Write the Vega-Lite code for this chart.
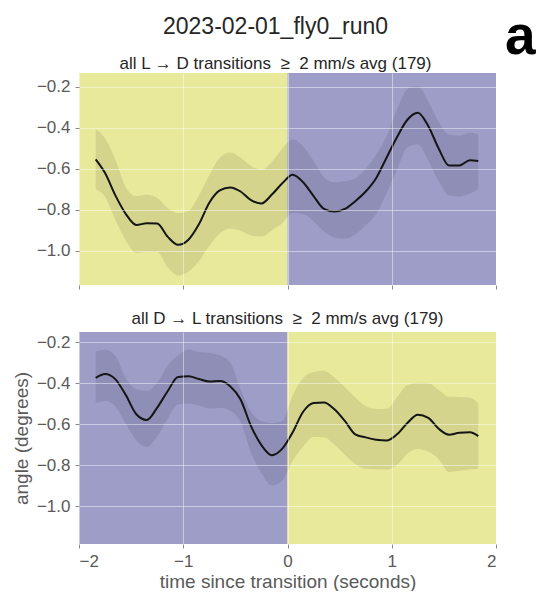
{
  "$schema": "https://vega.github.io/schema/vega-lite/v6.json",
  "background": "white",
  "padding": {"left": 12, "top": 10, "right": 0, "bottom": 0},
  "config": {
    "font": "Liberation Sans",
    "view": {"stroke": null},
    "title": {"font": "Liberation Sans", "fontWeight": "normal", "color": "#262626", "subtitleFont": "Liberation Sans", "subtitleColor": "#262626"},
    "axis": {
      "labelFont": "Liberation Sans", "titleFont": "Liberation Sans",
      "labelColor": "#5a5a5a", "titleColor": "#5a5a5a",
      "labelFontSize": 17, "titleFontSize": 19, "titleFontWeight": "normal",
      "domain": false, "tickColor": "#8a8a8a", "tickSize": 4, "labelPadding": 5,
      "grid": true, "gridColor": "white", "gridOpacity": 0.45
    }
  },
  "title": {"text": "a", "orient": "right", "anchor": "start", "angle": 0, "align": "left", "baseline": "top", "fontSize": 55, "fontWeight": "bold", "color": "#000000", "offset": -22, "dy": -5},
  "datasets": {
    "topbg": [
      {"x0": -2, "x1": 0, "phase": "light"},
      {"x0": 0, "x1": 2, "phase": "dark"}
    ],
    "botbg": [
      {"x0": -2, "x1": 0, "phase": "dark"},
      {"x0": 0, "x1": 2, "phase": "light"}
    ],
    "top": [
      {"t": -1.84, "m": -0.553, "lo": -0.699, "hi": -0.406},
      {"t": -1.75, "m": -0.62, "lo": -0.735, "hi": -0.45},
      {"t": -1.65, "m": -0.73, "lo": -0.85, "hi": -0.555},
      {"t": -1.55, "m": -0.82, "lo": -0.95, "hi": -0.69},
      {"t": -1.45, "m": -0.873, "lo": -1.01, "hi": -0.732},
      {"t": -1.35, "m": -0.865, "lo": -1.005, "hi": -0.726},
      {"t": -1.25, "m": -0.866, "lo": -1.005, "hi": -0.742},
      {"t": -1.15, "m": -0.93, "lo": -1.08, "hi": -0.79},
      {"t": -1.05, "m": -0.97, "lo": -1.12, "hi": -0.815},
      {"t": -0.95, "m": -0.945, "lo": -1.1, "hi": -0.805},
      {"t": -0.85, "m": -0.87, "lo": -1.05, "hi": -0.73},
      {"t": -0.75, "m": -0.765, "lo": -0.975, "hi": -0.63},
      {"t": -0.65, "m": -0.705, "lo": -0.915, "hi": -0.545},
      {"t": -0.55, "m": -0.69, "lo": -0.89, "hi": -0.52},
      {"t": -0.45, "m": -0.71, "lo": -0.902, "hi": -0.545},
      {"t": -0.35, "m": -0.752, "lo": -0.925, "hi": -0.585},
      {"t": -0.25, "m": -0.768, "lo": -0.93, "hi": -0.605},
      {"t": -0.15, "m": -0.725, "lo": -0.9, "hi": -0.565},
      {"t": -0.05, "m": -0.67, "lo": -0.865, "hi": -0.5},
      {"t": 0.05, "m": -0.628, "lo": -0.815, "hi": -0.455},
      {"t": 0.15, "m": -0.665, "lo": -0.82, "hi": -0.49},
      {"t": 0.25, "m": -0.732, "lo": -0.855, "hi": -0.56},
      {"t": 0.35, "m": -0.795, "lo": -0.905, "hi": -0.64},
      {"t": 0.45, "m": -0.808, "lo": -0.935, "hi": -0.665},
      {"t": 0.55, "m": -0.795, "lo": -0.94, "hi": -0.66},
      {"t": 0.65, "m": -0.757, "lo": -0.92, "hi": -0.645},
      {"t": 0.75, "m": -0.71, "lo": -0.875, "hi": -0.6},
      {"t": 0.85, "m": -0.645, "lo": -0.821, "hi": -0.53},
      {"t": 0.95, "m": -0.545, "lo": -0.72, "hi": -0.44},
      {"t": 1.05, "m": -0.445, "lo": -0.605, "hi": -0.31},
      {"t": 1.15, "m": -0.36, "lo": -0.495, "hi": -0.21},
      {"t": 1.25, "m": -0.326, "lo": -0.48, "hi": -0.195},
      {"t": 1.35, "m": -0.39, "lo": -0.56, "hi": -0.27},
      {"t": 1.45, "m": -0.5, "lo": -0.66, "hi": -0.37},
      {"t": 1.55, "m": -0.583, "lo": -0.73, "hi": -0.433},
      {"t": 1.65, "m": -0.583, "lo": -0.735, "hi": -0.437},
      {"t": 1.75, "m": -0.557, "lo": -0.72, "hi": -0.423},
      {"t": 1.83, "m": -0.561, "lo": -0.699, "hi": -0.431}
    ],
    "bot": [
      {"t": -1.84, "m": -0.375, "lo": -0.499, "hi": -0.247},
      {"t": -1.75, "m": -0.356, "lo": -0.488, "hi": -0.238},
      {"t": -1.65, "m": -0.382, "lo": -0.515, "hi": -0.268},
      {"t": -1.55, "m": -0.46, "lo": -0.6, "hi": -0.378},
      {"t": -1.45, "m": -0.552, "lo": -0.68, "hi": -0.43},
      {"t": -1.35, "m": -0.58, "lo": -0.712, "hi": -0.438},
      {"t": -1.25, "m": -0.52, "lo": -0.66, "hi": -0.4},
      {"t": -1.15, "m": -0.44, "lo": -0.575, "hi": -0.315},
      {"t": -1.05, "m": -0.37, "lo": -0.505, "hi": -0.265},
      {"t": -0.95, "m": -0.367, "lo": -0.5, "hi": -0.236},
      {"t": -0.85, "m": -0.38, "lo": -0.51, "hi": -0.248},
      {"t": -0.75, "m": -0.392, "lo": -0.524, "hi": -0.252},
      {"t": -0.65, "m": -0.39, "lo": -0.52, "hi": -0.265},
      {"t": -0.55, "m": -0.415, "lo": -0.535, "hi": -0.3},
      {"t": -0.45, "m": -0.48, "lo": -0.59, "hi": -0.43},
      {"t": -0.35, "m": -0.61, "lo": -0.74, "hi": -0.54},
      {"t": -0.25, "m": -0.703, "lo": -0.84, "hi": -0.585},
      {"t": -0.15, "m": -0.752, "lo": -0.9, "hi": -0.595},
      {"t": -0.05, "m": -0.72, "lo": -0.875, "hi": -0.585},
      {"t": 0.05, "m": -0.64, "lo": -0.78, "hi": -0.46},
      {"t": 0.15, "m": -0.54, "lo": -0.71, "hi": -0.375},
      {"t": 0.25, "m": -0.497, "lo": -0.663, "hi": -0.346},
      {"t": 0.35, "m": -0.495, "lo": -0.665, "hi": -0.34},
      {"t": 0.45, "m": -0.528, "lo": -0.7, "hi": -0.373},
      {"t": 0.55, "m": -0.585, "lo": -0.75, "hi": -0.42},
      {"t": 0.65, "m": -0.65, "lo": -0.795, "hi": -0.47},
      {"t": 0.75, "m": -0.665, "lo": -0.818, "hi": -0.512},
      {"t": 0.85, "m": -0.676, "lo": -0.82, "hi": -0.527},
      {"t": 0.95, "m": -0.68, "lo": -0.822, "hi": -0.525},
      {"t": 1.05, "m": -0.65, "lo": -0.8, "hi": -0.47},
      {"t": 1.15, "m": -0.595, "lo": -0.745, "hi": -0.41},
      {"t": 1.25, "m": -0.555, "lo": -0.722, "hi": -0.398},
      {"t": 1.35, "m": -0.57, "lo": -0.735, "hi": -0.4},
      {"t": 1.45, "m": -0.623, "lo": -0.77, "hi": -0.434},
      {"t": 1.55, "m": -0.652, "lo": -0.834, "hi": -0.467},
      {"t": 1.65, "m": -0.642, "lo": -0.828, "hi": -0.468},
      {"t": 1.75, "m": -0.64, "lo": -0.822, "hi": -0.47},
      {"t": 1.83, "m": -0.659, "lo": -0.818, "hi": -0.501}
    ]
  },
  "spacing": 20,
  "vconcat": [
    {
      "width": 417,
      "height": 212,
      "title": {"text": "2023-02-01_fly0_run0", "fontSize": 23, "subtitle": "all L → D transitions\u00a0 ≥\u00a0 2 mm/s avg (179)", "subtitleFontSize": 17, "subtitlePadding": 17, "anchor": "middle", "frame": "group", "dx": -12, "offset": 1},
      "layer": [
        {
          "data": {"name": "topbg"},
          "mark": {"type": "rect"},
          "encoding": {
            "x": {"field": "x0", "type": "quantitative",
                  "scale": {"domain": [-2, 2], "nice": false, "zero": false},
                  "axis": {"values": [-2, -1, 0, 1, 2], "labels": false, "title": null, "zindex": 1}},
            "x2": {"field": "x1"},
            "y": {"datum": -0.132, "type": "quantitative",
                  "scale": {"domain": [-1.166, -0.132], "nice": false, "zero": false},
                  "axis": {"values": [-1.0, -0.8, -0.6, -0.4, -0.2], "format": ".1f", "title": null, "zindex": 1}},
            "y2": {"datum": -1.166},
            "color": {"field": "phase", "type": "nominal",
                      "scale": {"domain": ["light", "dark"], "range": ["#e9e99b", "#9d9dc8"]},
                      "legend": null}
          }
        },
        {
          "data": {"name": "top"},
          "mark": {"type": "area", "color": "#000000", "opacity": 0.09, "interpolate": "monotone"},
          "encoding": {
            "x": {"field": "t", "type": "quantitative"},
            "y": {"field": "lo", "type": "quantitative"},
            "y2": {"field": "hi"}
          }
        },
        {
          "data": {"name": "top"},
          "mark": {"type": "line", "color": "#151515", "strokeWidth": 2, "interpolate": "monotone"},
          "encoding": {
            "x": {"field": "t", "type": "quantitative"},
            "y": {"field": "m", "type": "quantitative"}
          }
        }
      ]
    },
    {
      "width": 417,
      "height": 212,
      "title": {"text": "all D → L transitions\u00a0 ≥\u00a0 2 mm/s avg (179)", "fontSize": 17, "anchor": "middle", "frame": "group", "offset": 4},
      "layer": [
        {
          "data": {"name": "botbg"},
          "mark": {"type": "rect"},
          "encoding": {
            "x": {"field": "x0", "type": "quantitative",
                  "scale": {"domain": [-2, 2], "nice": false, "zero": false},
                  "axis": {"values": [-2, -1, 0, 1, 2], "format": "d", "title": "time since transition (seconds)", "titlePadding": 3, "zindex": 1}},
            "x2": {"field": "x1"},
            "y": {"datum": -0.151, "type": "quantitative",
                  "scale": {"domain": [-1.185, -0.151], "nice": false, "zero": false},
                  "axis": {"values": [-1.0, -0.8, -0.6, -0.4, -0.2], "format": ".1f", "title": "angle (degrees)", "titlePadding": 5, "zindex": 1}},
            "y2": {"datum": -1.185},
            "color": {"field": "phase", "type": "nominal",
                      "scale": {"domain": ["light", "dark"], "range": ["#e9e99b", "#9d9dc8"]},
                      "legend": null}
          }
        },
        {
          "data": {"name": "bot"},
          "mark": {"type": "area", "color": "#000000", "opacity": 0.09, "interpolate": "monotone"},
          "encoding": {
            "x": {"field": "t", "type": "quantitative"},
            "y": {"field": "lo", "type": "quantitative"},
            "y2": {"field": "hi"}
          }
        },
        {
          "data": {"name": "bot"},
          "mark": {"type": "line", "color": "#151515", "strokeWidth": 2, "interpolate": "monotone"},
          "encoding": {
            "x": {"field": "t", "type": "quantitative"},
            "y": {"field": "m", "type": "quantitative"}
          }
        }
      ]
    }
  ]
}
